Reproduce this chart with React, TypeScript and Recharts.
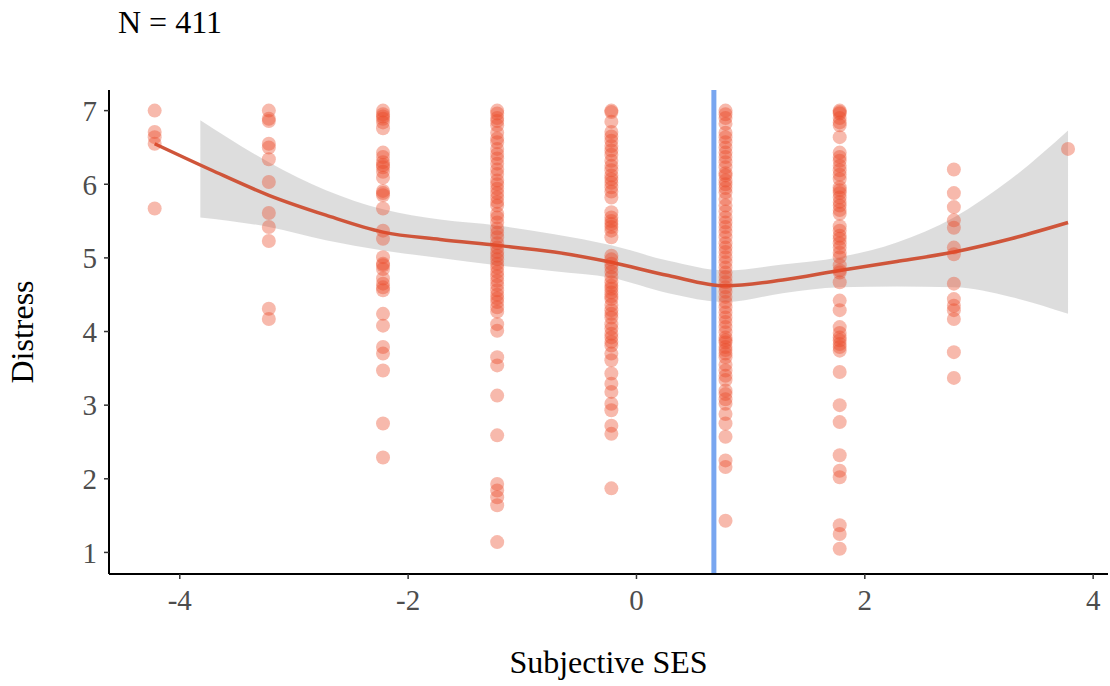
import {
  Area,
  ComposedChart,
  Line,
  ReferenceLine,
  Scatter,
  XAxis,
  YAxis,
} from "recharts";

// Subjective SES (centred) columns and Distress values
const sesLevels = [-4.22, -3.22, -2.22, -1.22, -0.22, 0.78, 1.78, 2.78, 3.78];

const distressAtM422 = [7.0, 6.71, 6.64, 6.55, 5.67];
const distressAtM322 = [7.0, 6.89, 6.86, 6.55, 6.5, 6.34, 6.03, 5.61, 5.42, 5.23, 4.31, 4.17];
const distressAtM222 = [
  7.0, 6.95, 6.92, 6.89, 6.84, 6.76, 6.43, 6.37, 6.3, 6.26, 6.23, 6.17, 6.09, 5.91, 5.88,
  5.85, 5.67, 5.37, 5.26, 5.01, 4.92, 4.9, 4.85, 4.72, 4.65, 4.6, 4.56, 4.24, 4.08, 3.79,
  3.7, 3.47, 2.75, 2.29,
];
const distressAtM122 = [
  7.0, 6.96, 6.9, 6.86, 6.8, 6.7, 6.62, 6.57, 6.48, 6.41, 6.35, 6.28, 6.2, 6.14, 6.05,
  6.0, 5.94, 5.88, 5.82, 5.76, 5.71, 5.6, 5.55, 5.48, 5.4, 5.34, 5.28, 5.2, 5.14, 5.08,
  5.03, 4.98, 4.92, 4.87, 4.81, 4.75, 4.69, 4.63, 4.56, 4.5, 4.45, 4.4, 4.33, 4.27, 4.1,
  4.01, 3.65, 3.54, 3.13, 2.59, 1.93, 1.84, 1.75, 1.64, 1.14,
];
const distressAtM022 = [
  7.0, 6.98, 6.85, 6.71, 6.65, 6.59, 6.52, 6.46, 6.4, 6.32, 6.25, 6.19, 6.12, 6.07, 6.02,
  5.96, 5.9, 5.82, 5.62, 5.55, 5.5, 5.46, 5.42, 5.37, 5.28, 5.03, 4.98, 4.92, 4.87, 4.81,
  4.74, 4.67, 4.62, 4.58, 4.53, 4.48, 4.44, 4.36, 4.29, 4.24, 4.19, 4.1, 4.04, 3.97, 3.92,
  3.86, 3.81, 3.7, 3.61, 3.43, 3.29, 3.18, 3.02, 2.93, 2.72, 2.61, 1.87,
];
const distressAt078 = [
  7.0, 6.95, 6.9, 6.82, 6.7, 6.64, 6.57, 6.5, 6.43, 6.37, 6.3, 6.23, 6.15, 6.12, 6.05,
  6.0, 5.95, 5.89, 5.8, 5.71, 5.63, 5.55, 5.48, 5.42, 5.35, 5.28, 5.2, 5.14, 5.08, 5.01,
  4.94, 4.87, 4.8, 4.74, 4.67, 4.6, 4.54, 4.47, 4.4, 4.33, 4.26, 4.19, 4.13, 4.06, 3.99,
  3.92, 3.88, 3.85, 3.79, 3.75, 3.7, 3.65, 3.55, 3.47, 3.4, 3.34, 3.2, 3.15, 3.08, 3.02,
  2.88, 2.75, 2.57, 2.25, 2.16, 1.43,
];
const distressAt178 = [
  7.0, 6.98, 6.96, 6.9, 6.84, 6.8, 6.64, 6.43, 6.37, 6.32, 6.25, 6.19, 6.13, 6.07, 5.96,
  5.92, 5.88, 5.82, 5.76, 5.71, 5.65, 5.6, 5.43, 5.37, 5.3, 5.26, 5.2, 5.14, 5.07, 5.01,
  4.9, 4.83, 4.8, 4.67, 4.42, 4.29, 4.06, 3.98, 3.92, 3.88, 3.83, 3.79, 3.74, 3.45, 3.0,
  2.77, 2.32, 2.11, 2.02, 1.37, 1.25, 1.05,
];
const distressAt278 = [6.2, 5.88, 5.69, 5.51, 5.41, 5.14, 5.05, 4.65, 4.44, 4.35, 4.29, 4.17, 3.72, 3.37];
const distressAt378 = [6.48];

const distressColumns = [
  distressAtM422, distressAtM322, distressAtM222, distressAtM122, distressAtM022,
  distressAt078, distressAt178, distressAt278, distressAt378,
];

// loess fit and its confidence band
const fitX = [-4.22, -3.72, -3.22, -2.72, -2.22, -1.72, -1.22, -0.72, -0.22, 0.28, 0.78, 1.28, 1.78, 2.28, 2.78, 3.28, 3.78];
const fitY = [6.55, 6.19, 5.85, 5.58, 5.35, 5.25, 5.17, 5.08, 4.94, 4.76, 4.62, 4.7, 4.83, 4.95, 5.08, 5.26, 5.48];

const bandX = [-3.82, -3.22, -2.72, -2.22, -1.72, -1.22, -0.72, -0.22, 0.28, 0.78, 1.28, 1.78, 2.28, 2.78, 3.28, 3.78];
const bandLow = [5.55, 5.42, 5.24, 5.1, 5.0, 4.9, 4.82, 4.73, 4.52, 4.4, 4.52, 4.6, 4.61, 4.6, 4.47, 4.24];
const bandHigh = [6.87, 6.3, 5.92, 5.66, 5.52, 5.44, 5.32, 5.17, 4.96, 4.83, 4.91, 5.01, 5.21, 5.55, 6.07, 6.73];

const sesMean = 0.678;
const xTicks = [-4, -2, 0, 2, 4];
const yTicks = [1, 2, 3, 4, 5, 6, 7];

const points = sesLevels.flatMap((x, i) => distressColumns[i].map((y) => ({ x, y })));
const fitData = fitX.map((x, i) => ({ x, fit: fitY[i] }));
const bandData = bandX.map((x, i) => ({ x, band: [bandLow[i], bandHigh[i]] }));

const FONT = "'Liberation Serif', 'Times New Roman', serif";
const tickStyle = { fill: "#4D4D4D", fontSize: 29, fontFamily: FONT };

function Dot(props: { cx?: number; cy?: number }) {
  if (props.cx == null || props.cy == null) return null;
  return <circle cx={props.cx} cy={props.cy} r={7} fill="#E94626" fillOpacity={0.38} />;
}

export default function App() {
  return (
    <div style={{ position: "absolute", left: 0, top: 0, width: 1110, height: 686, background: "#fff" }}>
      <div
        style={{
          position: "absolute",
          left: 118,
          top: 6,
          fontFamily: FONT,
          fontSize: 32,
          lineHeight: "32px",
          color: "#000",
        }}
      >
        N = 411
      </div>
      <ComposedChart width={1110} height={686} margin={{ top: 90, right: 2, bottom: 0, left: 0 }}>
        <XAxis
          type="number"
          dataKey="x"
          domain={[-4.62, 4.13]}
          ticks={xTicks}
          allowDataOverflow
          height={112}
          tick={tickStyle}
          tickSize={5}
          tickMargin={10}
          axisLine={{ stroke: "#000", strokeWidth: 2 }}
          tickLine={{ stroke: "#333", strokeWidth: 1.5 }}
          label={{
            value: "Subjective SES",
            position: "insideBottom",
            offset: 13,
            style: { fill: "#000", fontSize: 32, fontFamily: FONT },
          }}
        />
        <YAxis
          type="number"
          domain={[0.707, 7.28]}
          ticks={yTicks}
          allowDataOverflow
          width={109}
          tick={tickStyle}
          tickSize={5}
          tickMargin={7}
          axisLine={{ stroke: "#000", strokeWidth: 2 }}
          tickLine={{ stroke: "#333", strokeWidth: 1.5 }}
          label={{
            value: "Distress",
            angle: -90,
            position: "insideLeft",
            offset: 22,
            style: { textAnchor: "middle", fill: "#000", fontSize: 32, fontFamily: FONT },
          }}
        />
        <Scatter data={points} dataKey="y" shape={<Dot />} isAnimationActive={false} />
        <ReferenceLine x={sesMean} stroke="#78A6F0" strokeWidth={5} />
        <Area
          data={bandData}
          dataKey="band"
          type="monotone"
          stroke="none"
          fill="#999999"
          fillOpacity={0.33}
          isAnimationActive={false}
        />
        <Line
          data={fitData}
          dataKey="fit"
          type="monotone"
          stroke="#CF553A"
          strokeWidth={3.5}
          dot={false}
          isAnimationActive={false}
        />
      </ComposedChart>
    </div>
  );
}
